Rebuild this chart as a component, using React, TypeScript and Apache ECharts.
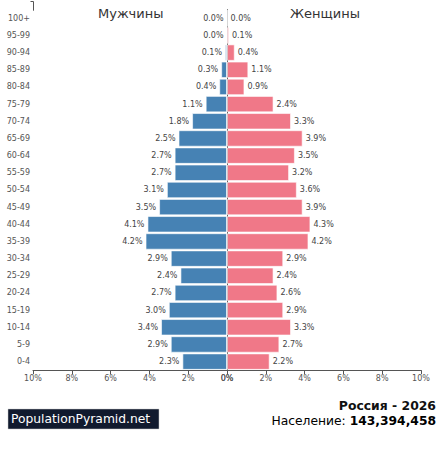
import React, { useEffect, useRef } from "react";
import * as echarts from "echarts";

const ageGroups = ["0-4","5-9","10-14","15-19","20-24","25-29","30-34","35-39","40-44","45-49","50-54","55-59","60-64","65-69","70-74","75-79","80-84","85-89","90-94","95-99","100+"];
const maleValues = [2.3,2.9,3.4,3.0,2.7,2.4,2.9,4.2,4.1,3.5,3.1,2.7,2.7,2.5,1.8,1.1,0.4,0.3,0.1,0.0,0.0];
const femaleValues = [2.2,2.7,3.3,2.9,2.6,2.4,2.9,4.2,4.3,3.9,3.6,3.2,3.5,3.9,3.3,2.4,0.9,1.1,0.4,0.1,0.0];
const axisTicks = [0, 2, 4, 6, 8, 10];
const leftTitle = "Мужчины";
const rightTitle = "Женщины";
const countryTitle = "Россия - 2026";
const populationLabel = "Население: ";
const populationValue = "143,394,458";
const brand = "PopulationPyramid.net";

const FONT = "DejaVu Sans";

export default function App() {
  const ref = useRef<HTMLDivElement>(null);
  useEffect(() => {
    if (!ref.current) return;
    const chart = echarts.init(ref.current, undefined, { renderer: "svg" });
    const axisMax = axisTicks[axisTicks.length - 1];
    const interval = axisTicks[1] - axisTicks[0];
    const xAxisCommon = {
      type: "value",
      min: 0,
      max: axisMax,
      interval,
      splitLine: { show: false },
      axisLine: { show: true, lineStyle: { color: "#555", width: 1 } },
      axisTick: { show: true, length: 4, lineStyle: { color: "#555" } },
      axisLabel: { formatter: "{value}%", fontSize: 8, color: "#555", fontFamily: FONT, margin: 4 },
    };
    const labelCommon = {
      show: true,
      fontSize: 8,
      color: "#444",
      fontFamily: FONT,
      distance: 3,
      formatter: (p: any) => Number(p.value).toFixed(1) + "%",
    };
    const gridTop = 9.7;
    const gridH = 360.5;
    chart.setOption({
      animation: false,
      grid: [
        { left: 33, top: gridTop, width: 194, height: gridH },
        { left: 227, top: gridTop, width: 194, height: gridH },
      ],
      xAxis: [
        { ...xAxisCommon, gridIndex: 0, inverse: true },
        { ...xAxisCommon, gridIndex: 1 },
      ],
      yAxis: [
        {
          type: "category",
          gridIndex: 0,
          data: ageGroups,
          axisLine: { show: true, lineStyle: { color: "#555" } },
          axisTick: { show: false },
          axisLabel: { fontSize: 8, color: "#555", fontFamily: FONT, margin: 3 },
        },
        {
          type: "category",
          gridIndex: 1,
          data: ageGroups,
          axisLine: { show: false },
          axisTick: { show: false },
          axisLabel: { show: false },
        },
      ],
      series: [
        {
          type: "bar",
          xAxisIndex: 0,
          yAxisIndex: 0,
          data: maleValues,
          barCategoryGap: "4%",
          itemStyle: { color: "#4682b4", borderColor: "rgba(255,255,255,0.6)", borderWidth: 1 },
          label: { ...labelCommon, position: "left" },
        },
        {
          type: "bar",
          xAxisIndex: 1,
          yAxisIndex: 1,
          data: femaleValues,
          barCategoryGap: "4%",
          itemStyle: { color: "#f07888", borderColor: "rgba(255,255,255,0.6)", borderWidth: 1 },
          label: { ...labelCommon, position: "right" },
        },
      ],
      graphic: [
        { type: "polyline", shape: { points: [[30.5, 1.5], [33.5, 1.5], [33.5, gridTop + 1]] }, style: { stroke: "#555", lineWidth: 1, fill: null } },
        { type: "text", left: 98, top: 7, style: { text: leftTitle, fontSize: 13, fill: "#333", fontFamily: FONT } },
        { type: "text", left: 290, top: 7, style: { text: rightTitle, fontSize: 13, fill: "#333", fontFamily: FONT } },
        { type: "rect", shape: { x: 8, y: 409, width: 151, height: 20 }, style: { fill: "#111a2e", stroke: "#c8c8c8", lineWidth: 0.5 } },
        { type: "text", x: 11, y: 419, style: { text: brand, fontSize: 12.3, fill: "#fff", fontFamily: FONT, align: "left", verticalAlign: "middle" } },
        { type: "text", x: 436, y: 405, style: { text: countryTitle, fontSize: 12.4, fontWeight: "bold", fill: "#111", fontFamily: FONT, align: "right", verticalAlign: "middle" } },
        {
          type: "text",
          x: 436,
          y: 420.5,
          style: {
            text: "{a|" + populationLabel + "}{b|" + populationValue + "}",
            align: "right",
            verticalAlign: "middle",
            rich: {
              a: { fontSize: 12.3, color: "#333", fontFamily: FONT },
              b: { fontSize: 12.3, fontWeight: "bold", color: "#111", fontFamily: FONT },
            },
          },
        },
      ],
    });
    return () => chart.dispose();
  }, []);
  return (
    <div style={{ position: "fixed", left: 0, top: 0, width: 444, height: 450, background: "#fff" }}>
      <div ref={ref} style={{ width: 444, height: 450 }} />
    </div>
  );
}
